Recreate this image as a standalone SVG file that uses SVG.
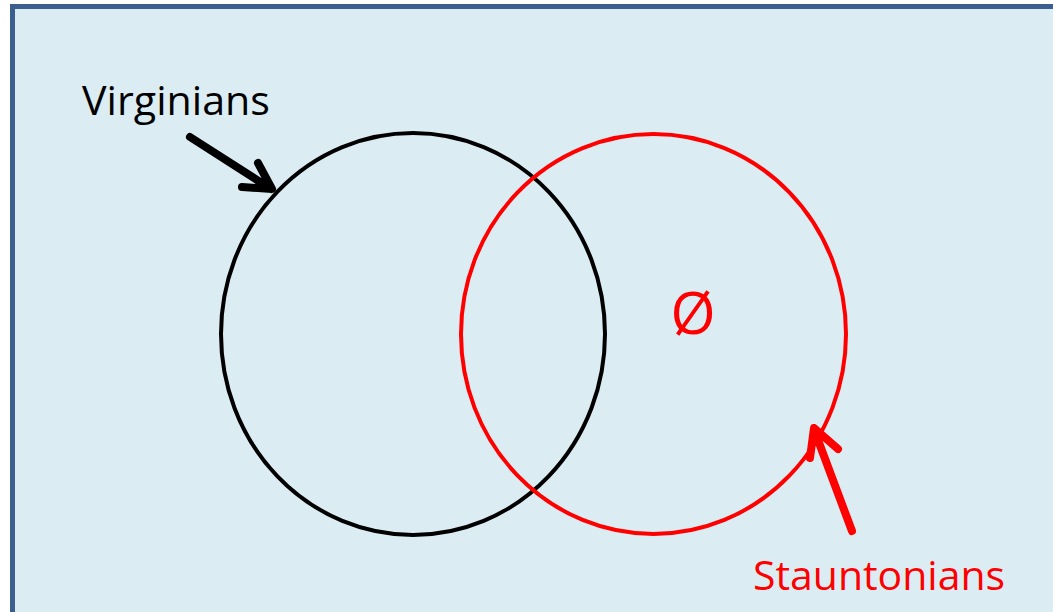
<svg xmlns="http://www.w3.org/2000/svg" width="1053" height="612" viewBox="0 0 1053 612">
<style>
.lbl{font-family:"Open Sans","Liberation Sans",sans-serif;font-size:40px}
.ring{fill:none;stroke-width:4}
.arr{fill:none;stroke-width:8;stroke-linecap:round;stroke-linejoin:round}
</style>
<rect x="0" y="0" width="1053" height="612" fill="#ffffff"/>
<rect id="frame" x="12.5" y="6.5" width="1050" height="620" fill="#dbedf3" stroke="#3b5f8f" stroke-width="5"/>
<g id="virginians">
<ellipse class="ring" cx="413" cy="334" rx="192" ry="201" stroke="#000"/>
<text class="lbl" x="82" y="115" fill="#000" textLength="188" lengthAdjust="spacingAndGlyphs">Virginians</text>
</g>
<g id="stauntonians">
<ellipse class="ring" cx="653.5" cy="334" rx="192.5" ry="200" stroke="#ff0000"/>
<text class="lbl" x="753" y="590" fill="#ff0000" textLength="252" lengthAdjust="spacingAndGlyphs">Stauntonians</text>
</g>
<g id="empty">
<text x="693" y="334" fill="#ff0000" text-anchor="middle" style="font-family:'Open Sans','Liberation Sans',sans-serif;font-size:58px">Ø</text>
</g>
<g id="connectors">
<path class="arr" stroke="#000" d="M190 137 L271 189 M258 163 L272 189 L242 187"/>
<path class="arr" stroke="#ff0000" d="M852 531 L815 432 M810 458 L814 428 L838 449"/>
</g>
</svg>
